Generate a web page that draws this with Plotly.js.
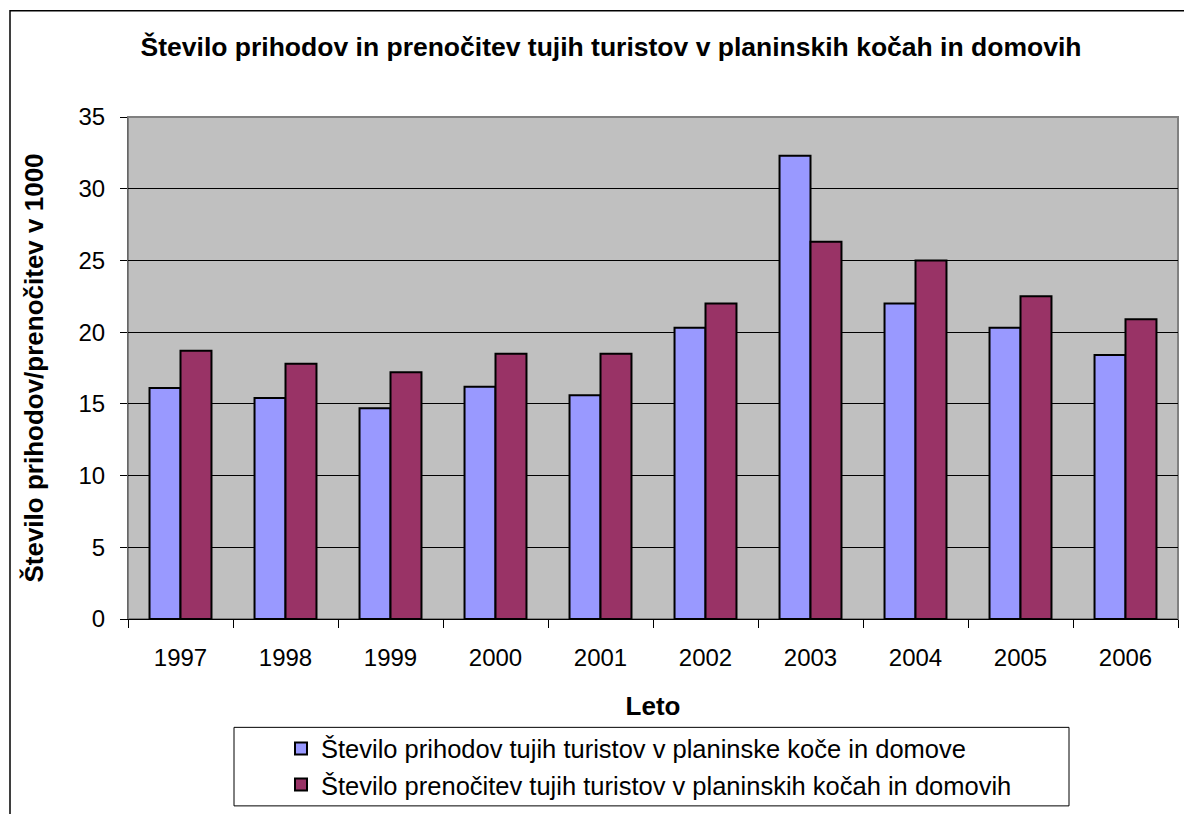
<!DOCTYPE html>
<html>
<head>
<meta charset="utf-8">
<script src="https://cdn.plot.ly/plotly-3.0.1.min.js"></script>
<style>html,body{margin:0;padding:0;background:#fff;}#chart{width:1184px;height:814px;}</style>
</head>
<body>
<div id="chart"></div>
<script>
const years = ['1997','1998','1999','2000','2001','2002','2003','2004','2005','2006'];
const prihodi = [16.1, 15.4, 14.7, 16.2, 15.6, 20.3, 32.3, 22.0, 20.3, 18.4];
const prenocitve = [18.7, 17.8, 17.2, 18.5, 18.5, 22.0, 26.3, 25.0, 22.5, 20.9];
const seriesNames = ['Število prihodov tujih turistov v planinske koče in domove',
                     'Število prenočitev tujih turistov v planinskih kočah in domovih'];
const titleText = 'Število prihodov in prenočitev tujih turistov v planinskih kočah in domovih';
const xTitle = 'Leto';
const yTitle = 'Število prihodov/prenočitev v 1000';

const W = 1184, H = 814;
const mL = 128, mR = 6, mT = 117, mB = 192;
const pw = W - mL - mR, ph = H - mT - mB;
const px = x => (x - mL) / pw;
const py = y => (H - mB - y) / ph;

const FONT = 'Liberation Sans, Arial, sans-serif';

const traces = [
  {type:'bar', x:years, y:prihodi, name:seriesNames[0], legendgroup:'a',
   marker:{color:'#9999FF', line:{color:'#000', width:2}}},
  {type:'bar', x:years, y:prenocitve, name:seriesNames[1], legendgroup:'b',
   marker:{color:'#993366', line:{color:'#000', width:2}}}
];

const layout = {
  width: W, height: H,
  margin:{l:mL, r:mR, t:mT, b:mB, pad:0},
  paper_bgcolor:'#fff', plot_bgcolor:'#C0C0C0',
  font:{family:FONT, color:'#000', size:24},
  barmode:'group', bargap:0.41, bargroupgap:0,
  title:{text:'<b>'+titleText+'</b>', font:{size:26.5, family:FONT}, x:px(611), xanchor:'center', xref:'paper', y:1-47/H, yanchor:'middle'},
  xaxis:{type:'category', tickson:'boundaries', ticks:'outside', ticklen:8, tickcolor:'#000', tickwidth:1,
         showline:true, linecolor:'#000', linewidth:1, showgrid:false,
         tickfont:{size:24}, ticklabelstandoff:17,
         title:{text:'<b>'+xTitle+'</b>', font:{size:26}, standoff:27}},
  yaxis:{range:[0,35], dtick:5, tick0:0, ticks:'outside', ticklen:7, tickcolor:'#000', tickwidth:1,
         showline:true, linecolor:'#666', linewidth:1, showgrid:true, gridcolor:'#000', gridwidth:1,
         zeroline:false, tickfont:{size:24}, ticklabelstandoff:10,
         title:{text:'<b>'+yTitle+'</b>', font:{size:26}, standoff:27}},
  showlegend:true,
  legend:{x:px(281), xanchor:'left', y:py(729), yanchor:'top', bgcolor:'rgba(0,0,0,0)',
          borderwidth:0, font:{size:25.5}, tracegroupgap:13, itemwidth:30, traceorder:'normal'},
  shapes:[
    {type:'rect', xref:'paper', yref:'paper', x0:px(10), x1:px(1192), y0:py(830), y1:py(10),
     line:{color:'#000', width:1.5}, fillcolor:'rgba(0,0,0,0)', layer:'below'},
    {type:'rect', xref:'paper', yref:'paper', x0:0, x1:1, y0:0, y1:1,
     line:{color:'#808080', width:2}, fillcolor:'rgba(0,0,0,0)', layer:'below'},
    {type:'rect', xref:'paper', yref:'paper', x0:px(234), x1:px(1069), y0:py(810), y1:py(731),
     line:{color:'#000', width:1}, fillcolor:'#fff', layer:'above'}
  ]
};

Plotly.newPlot('chart', traces, layout, {displayModeBar:false, staticPlot:true});
</script>
</body>
</html>
